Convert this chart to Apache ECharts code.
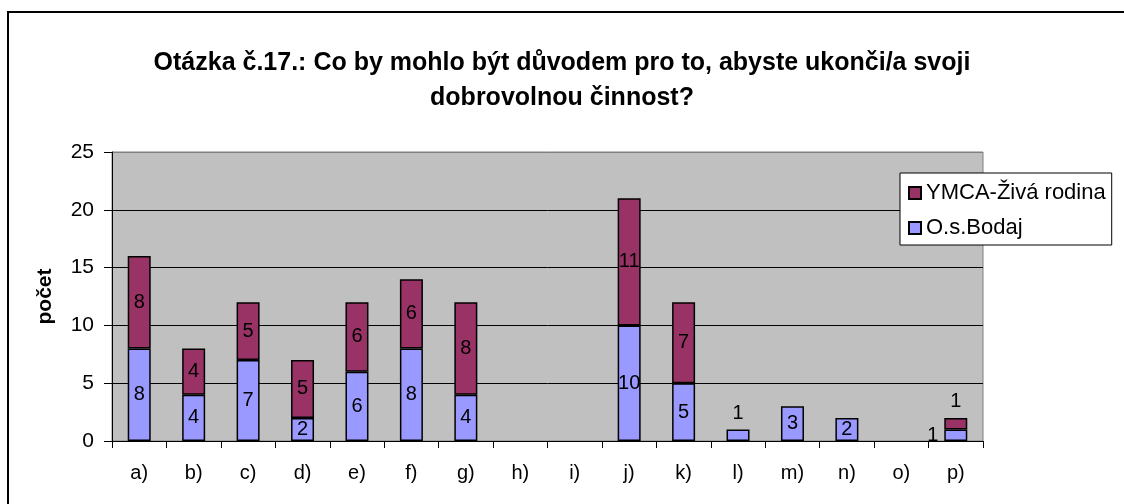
<!DOCTYPE html>
<html>
<head>
<meta charset="utf-8">
<script src="https://cdn.jsdelivr.net/npm/echarts@6/dist/echarts.min.js"></script>
<style>
  html, body { margin: 0; padding: 0; background: #fff; }
  #chart { width: 1124px; height: 504px; }
</style>
</head>
<body>
<div id="chart"></div>
<script>
// data
var categories = ['a)', 'b)', 'c)', 'd)', 'e)', 'f)', 'g)', 'h)', 'i)', 'j)', 'k)', 'l)', 'm)', 'n)', 'o)', 'p)'];
var bodaj = [8, 4, 7, 2, 6, 8, 4, null, null, 10, 5, 1, 3, 2, null, 1];
var ymca = [8, 4, 5, 5, 6, 6, 8, null, null, 11, 7, null, null, null, null, 1];
var yTicks = [0, 5, 10, 15, 20, 25];

var FONT = "'Liberation Sans', Arial, sans-serif";

// labels that don't fit in the bar go outside (like excel does)
var bodajLabelPos = { 11: 'top', 15: 'left' };
var ymcaLabelPos = { 15: 'top' };

function buildData(vals, posMap) {
  return vals.map(function (v, i) {
    if (posMap[i]) {
      return { value: v, label: { position: posMap[i] } };
    }
    return v;
  });
}

var chart = echarts.init(document.getElementById('chart'));

var option = {
  animation: false,
  textStyle: { fontFamily: FONT, color: '#000' },
  title: {
    text: 'Otázka č.17.: Co by mohlo být důvodem pro to, abyste ukonči/a svoji\ndobrovolnou činnost?',
    left: 'center',
    top: 46,
    padding: 0,
    textStyle: {
      fontFamily: FONT,
      fontSize: 25,
      fontWeight: 'bold',
      lineHeight: 35,
      color: '#000'
    }
  },
  graphic: [{
    type: 'rect',
    shape: { x: 8, y: 12, width: 1130, height: 600 },
    style: { fill: 'none', stroke: '#000', lineWidth: 2 },
    silent: true
  }],
  legend: {
    orient: 'vertical',
    left: 900,
    top: 173,
    data: ['YMCA-Živá rodina', 'O.s.Bodaj'],
    backgroundColor: '#fff',
    borderColor: '#000',
    borderWidth: 1,
    padding: [9, 6, 6, 8],
    itemGap: 13,
    itemWidth: 12,
    itemHeight: 12,
    icon: 'rect',
    textStyle: { fontFamily: FONT, fontSize: 22, lineHeight: 22, color: '#000' }
  },
  grid: {
    left: 112,
    top: 152,
    right: 141,
    bottom: 63,
    show: true,
    backgroundColor: '#c0c0c0',
    borderColor: '#808080',
    borderWidth: 1
  },
  xAxis: {
    type: 'category',
    data: categories,
    axisLine: { lineStyle: { color: '#000', width: 1 } },
    axisTick: { show: true, length: 7, lineStyle: { color: '#000' } },
    axisLabel: { fontFamily: FONT, fontSize: 20, color: '#000', margin: 22 }
  },
  yAxis: {
    type: 'value',
    min: yTicks[0],
    max: yTicks[yTicks.length - 1],
    interval: 5,
    name: 'počet',
    nameLocation: 'middle',
    nameGap: 56,
    nameTextStyle: { fontFamily: FONT, fontSize: 21, fontWeight: 'bold', color: '#000' },
    axisLine: { show: true, lineStyle: { color: '#000' } },
    axisTick: { show: true, length: 8, lineStyle: { color: '#000' } },
    axisLabel: { fontFamily: FONT, fontSize: 21, color: '#000', margin: 18 },
    splitLine: {
      show: true,
      lineStyle: { color: ['#000', '#000', '#000', '#000', '#000', '#808080'], width: 1 }
    }
  },
  series: [
    {
      name: 'O.s.Bodaj',
      type: 'bar',
      stack: 'total',
      barWidth: 23,
      data: buildData(bodaj, bodajLabelPos),
      itemStyle: { color: '#9999ff', borderColor: '#000', borderWidth: 1.5 },
      label: { show: true, position: 'inside', fontFamily: FONT, fontSize: 20, color: '#000', distance: 6 }
    },
    {
      name: 'YMCA-Živá rodina',
      type: 'bar',
      stack: 'total',
      barWidth: 23,
      data: buildData(ymca, ymcaLabelPos),
      itemStyle: { color: '#993366', borderColor: '#000', borderWidth: 1.5 },
      label: { show: true, position: 'inside', fontFamily: FONT, fontSize: 20, color: '#000', distance: 6 }
    }
  ]
};

chart.setOption(option);
</script>
</body>
</html>
